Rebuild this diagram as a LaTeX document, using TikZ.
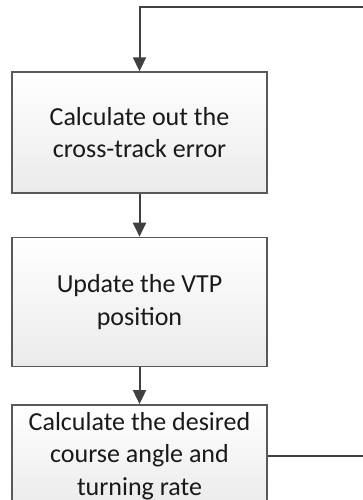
\documentclass[tikz,border=0pt]{standalone}
\usepackage{fontspec}
\setmainfont{Carlito}
\usetikzlibrary{arrows.meta, positioning}

\begin{document}
\begin{tikzpicture}[x=1pt, y=-1pt,
    stepbox/.style={draw=black!65, line width=1.4pt, top color=white, bottom color=black!8,
        minimum width=255pt, align=center, text=black!90,
        font=\fontsize{26}{32.5}\selectfont},
    flow/.style={draw=black!75, line width=2pt, -{Triangle[length=14pt, width=13pt]}}]
    \useasboundingbox (0,0) rectangle (362,500);

    % Guidance steps
    \node[stepbox, minimum height=121pt] (crosstrack) at (139.5,132.5) {Calculate out the\\cross-track error};
    \node[stepbox, minimum height=129pt, below=43pt of crosstrack] (vtp) {Update the VTP\\position};
    \node[stepbox, minimum height=102pt, below=37pt of vtp] (course) {Calculate the desired\\course angle and\\turning rate};

    % Step to step
    \draw[flow] (crosstrack) -- (vtp);
    \draw[flow] (vtp) -- (course);

    % Loop back to the top
    \coordinate (looptop) at (380,7.5);
    \draw[flow] (course.east) -| (looptop) -| (crosstrack.north);
\end{tikzpicture}
\end{document}
